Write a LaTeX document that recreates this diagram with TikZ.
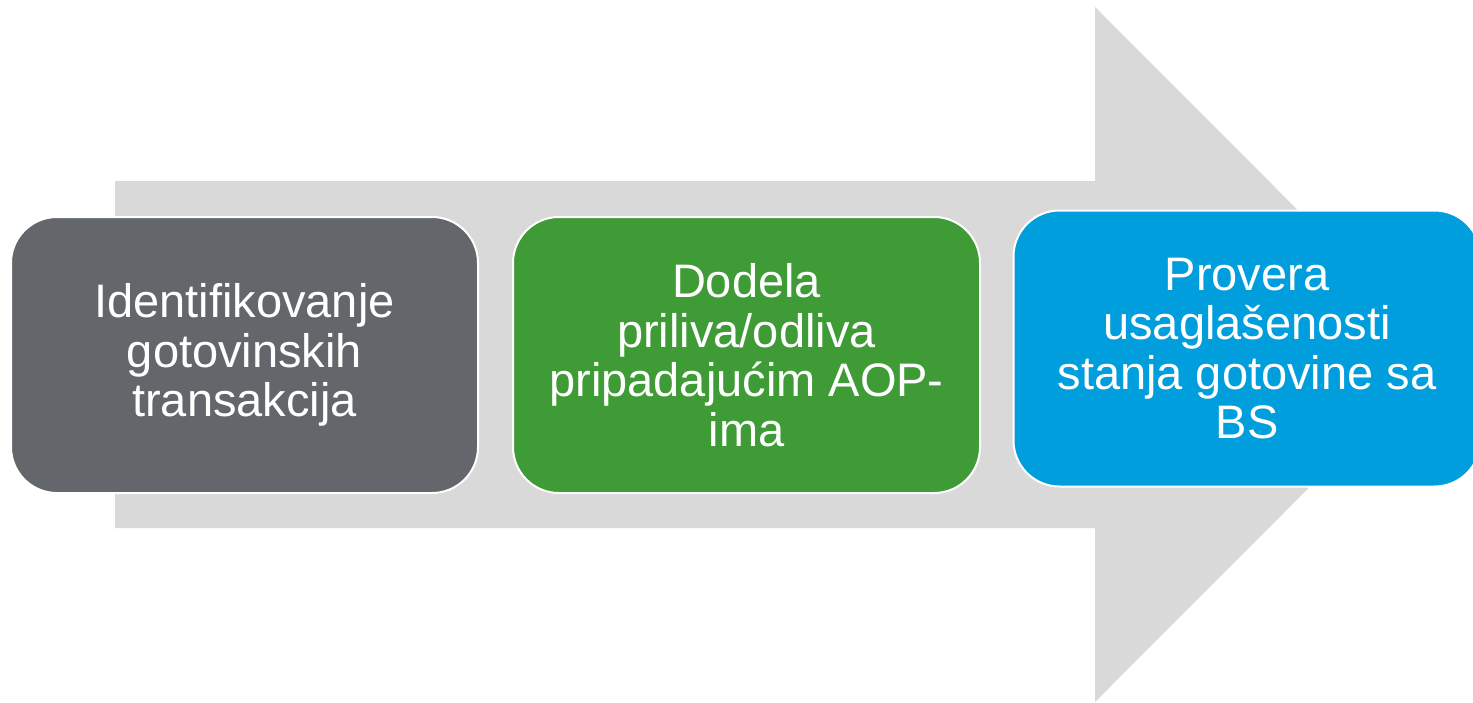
\documentclass[tikz,border=0pt]{standalone}
\usepackage{fontspec}
\setmainfont{Liberation Sans}
\definecolor{arrowgray}{HTML}{D9D9D9}
\definecolor{boxgray}{HTML}{63666A}
\definecolor{boxgreen}{HTML}{3E9B35}
\definecolor{boxblue}{HTML}{009EDD}
\tikzset{
  stepbox/.style={draw=white, line width=2pt, rounded corners=46pt,
    minimum width=467pt, minimum height=276pt, text=white, align=center,
    inner sep=0pt, font=\fontsize{47}{49.5}\selectfont},
}
\begin{document}
\begin{tikzpicture}[x=1pt,y=-1pt]
\useasboundingbox (0,0) rectangle (1473,702);
\begin{scope}
\clip (0,0) rectangle (1473,702);
% big background arrow
\fill[arrowgray] (115,181) -- (1095,181) -- (1095,7) -- (1442,354.5)
  -- (1095,702) -- (1095,528) -- (115,528) -- cycle;
\node[stepbox, fill=boxgray] (b1) at (244.5,355)
  {Identifikovanje\\gotovinskih\\transakcija};
\node[stepbox, fill=boxgreen] (b2) at (746.5,355)
  {Dodela\\priliva/odliva\\pripadajućim AOP-\\ima};
\node[stepbox, fill=boxblue] (b3) at (1247,348.5)
  {Provera\\usaglašenosti\\stanja gotovine sa\\BS};
\end{scope}
\end{tikzpicture}
\end{document}
